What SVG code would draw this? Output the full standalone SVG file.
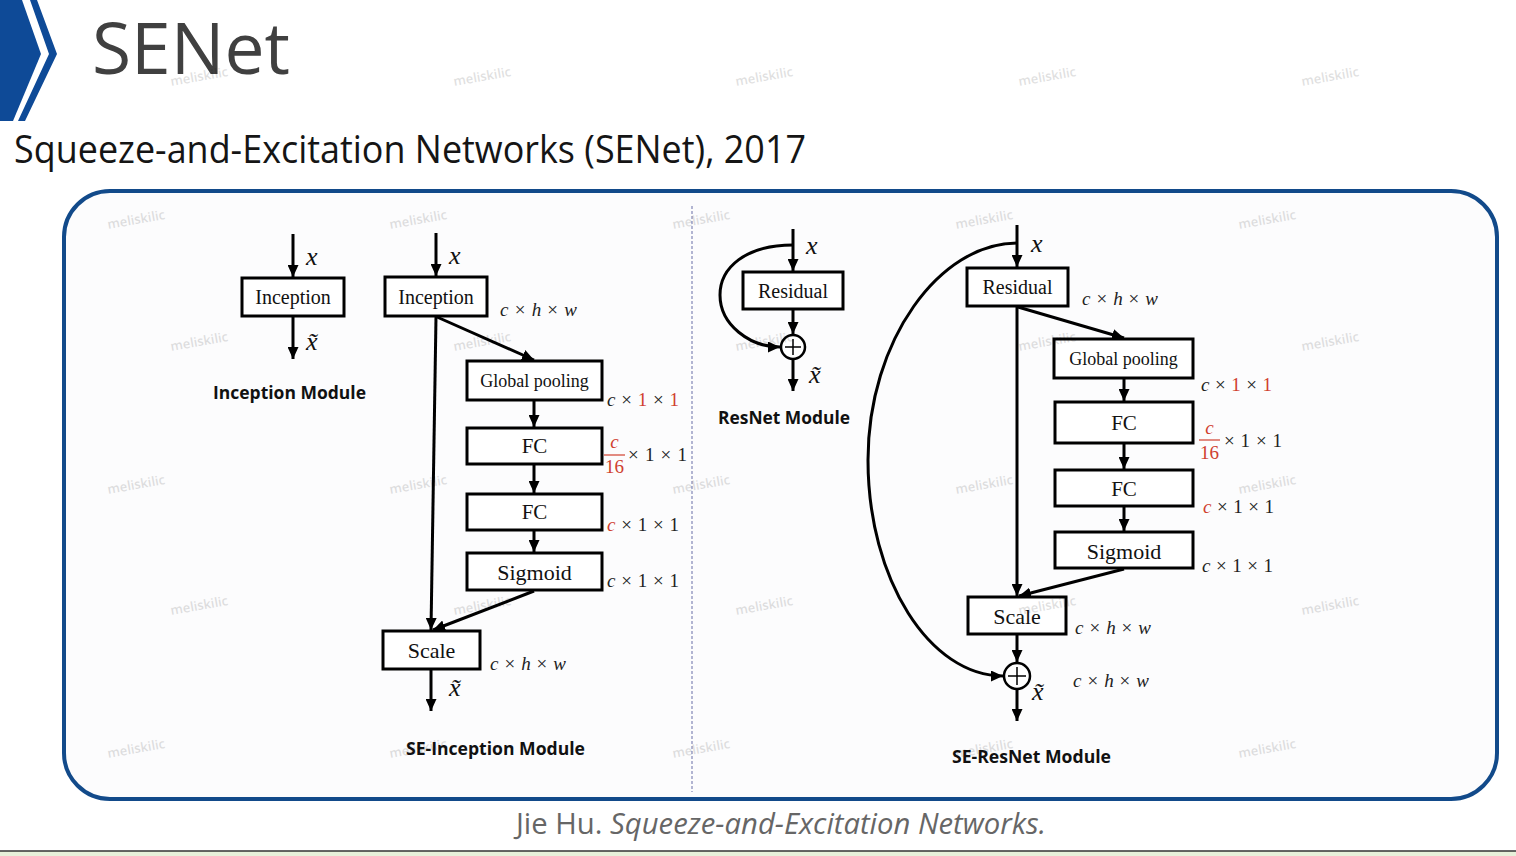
<svg xmlns="http://www.w3.org/2000/svg" width="1516" height="856" viewBox="0 0 1516 856">
<defs>
<marker id="ah" markerUnits="userSpaceOnUse" markerWidth="13" markerHeight="11" refX="12" refY="5.5" orient="auto">
<path d="M0,0 L12,5.5 L0,11 z" fill="#000"/>
</marker>
<style>
.box{fill:#fff;stroke:#000;stroke-width:3}
.lbl{font-family:"Liberation Serif","Times New Roman",serif;fill:#111;text-anchor:middle}
.con{fill:none;stroke:#000;stroke-width:3;marker-end:url(#ah)}
.dim{font-family:"Liberation Serif",serif;font-size:19px;fill:#222}
.it{font-style:italic}
.red{fill:#d0402f}
.math{font-family:"Liberation Serif",serif;font-style:italic;font-size:26px;fill:#111}
.mod{font-family:"Open Sans","Noto Sans",sans-serif;font-weight:700;font-size:17px;fill:#111}
.wm{font-family:"Open Sans",sans-serif;font-weight:600;font-size:13px;fill:#000;opacity:0.12}
.sum{fill:#fff;stroke:#000;stroke-width:2.5}
</style>
</defs>
<rect width="1516" height="856" fill="#fff"/>
<!-- header chevron -->
<polygon points="0,0 22,0 41,54 13,121 0,121" fill="#0e4a97"/>
<polygon points="30,0 37,0 57,54 25,121 18,121 49,54" fill="#0e4a97"/>
<text x="92" y="74" font-family="Open Sans,Noto Sans,sans-serif" font-size="71" fill="#404040" textLength="198" lengthAdjust="spacingAndGlyphs">SENet</text>
<text x="14" y="163" font-family="Open Sans,Noto Sans,sans-serif" font-size="39" fill="#151515" textLength="792" lengthAdjust="spacingAndGlyphs">Squeeze-and-Excitation Networks (SENet), 2017</text>
<!-- frame -->
<rect x="64" y="191" width="1433" height="608" rx="46" ry="46" fill="#fcfcfd" stroke="#124a8a" stroke-width="4"/>
<line x1="692" y1="206" x2="692" y2="792" stroke="#8b90bc" stroke-width="1.3" stroke-dasharray="3,2"/>
<!-- caption -->
<text x="516" y="834" font-family="Open Sans,Noto Sans,sans-serif" font-size="29" fill="#666" textLength="530" lengthAdjust="spacingAndGlyphs">Jie Hu. <tspan font-style="italic">Squeeze-and-Excitation Networks.</tspan></text>
<rect x="0" y="851" width="1516" height="5" fill="#e7f1da"/>
<line x1="0" y1="851" x2="1516" y2="851" stroke="#333" stroke-width="1.5"/>

<g id="connectors">
<path class="con" d="M293,234 V277"/>
<path class="con" d="M293,317 V359"/>
<path class="con" d="M436,233 V276"/>
<path class="con" d="M437,317 L534,360"/>
<path class="con" d="M436,317 L431,630"/>
<path class="con" d="M534,401 V427"/>
<path class="con" d="M534,465 V493"/>
<path class="con" d="M534,531 V552"/>
<path class="con" d="M534,591 L433,630"/>
<path class="con" d="M431,670 V711"/>
<path class="con" d="M793,229 V271"/>
<path class="con" d="M793,310 V334"/>
<path class="con" d="M793,359 V391"/>
<path class="con" d="M793,245 C745,245 720,268 720,295 C720,325 750,347 780,347"/>
<path class="con" d="M1017,225 V267"/>
<path class="con" d="M1018,307 L1124,338"/>
<path class="con" d="M1017,307 V596"/>
<path class="con" d="M1124,379 V401"/>
<path class="con" d="M1124,444 V469"/>
<path class="con" d="M1124,507 V531"/>
<path class="con" d="M1124,569 L1019,596"/>
<path class="con" d="M1017,635 V662"/>
<path class="con" d="M1017,689 V721"/>
<path class="con" d="M1017,243 C940,243 868,340 868,460 C868,580 930,676 1003,676"/>
</g>

<!-- Inception Module -->
<g id="inc-inception">
<rect class="box" x="242" y="278" width="102" height="38"/>
<text class="lbl" x="293" y="304" font-size="20">Inception</text>
</g>
<g id="inc-labels">
<text class="math" x="306" y="265">x</text>
<text class="math" x="306" y="350">x̃</text>
<text class="mod" x="213" y="399" textLength="153" lengthAdjust="spacingAndGlyphs">Inception Module</text>
</g>

<!-- SE-Inception -->
<g id="sei-inception">
<rect class="box" x="385" y="277" width="102" height="39"/>
<text class="lbl" x="436" y="304" font-size="20">Inception</text>
</g>
<g id="sei-gp">
<rect class="box" x="467" y="361" width="135" height="39"/>
<text class="lbl" x="534.5" y="387" font-size="18">Global pooling</text>
</g>
<g id="sei-fc1">
<rect class="box" x="467" y="428" width="135" height="36"/>
<text class="lbl" x="534.5" y="453" font-size="21">FC</text>
</g>
<g id="sei-fc2">
<rect class="box" x="467" y="494" width="135" height="36"/>
<text class="lbl" x="534.5" y="519" font-size="21">FC</text>
</g>
<g id="sei-sig">
<rect class="box" x="467" y="553" width="135" height="37"/>
<text class="lbl" x="534.5" y="580" font-size="22">Sigmoid</text>
</g>
<g id="sei-scale">
<rect class="box" x="383" y="631" width="97" height="38"/>
<text class="lbl" x="431.5" y="658" font-size="22">Scale</text>
</g>
<g id="sei-labels">
<text class="math" x="449" y="264">x</text>
<text class="math" x="449" y="696">x̃</text>
<text class="dim" x="500" y="316" textLength="77" lengthAdjust="spacing"><tspan class="it">c</tspan> × <tspan class="it">h</tspan> × <tspan class="it">w</tspan></text>
<text class="dim" x="607" y="406" textLength="72" lengthAdjust="spacing"><tspan class="it">c</tspan> × <tspan class="red">1</tspan> × <tspan class="red">1</tspan></text>
<text class="dim red it" x="614.5" y="448" text-anchor="middle">c</text>
<line x1="604" y1="455" x2="625" y2="455" stroke="#d0402f" stroke-width="1.2"/>
<text class="dim red" x="614.5" y="473" text-anchor="middle">16</text>
<text class="dim" x="628" y="461" textLength="59" lengthAdjust="spacing">× 1 × 1</text>
<text class="dim" x="607" y="531" textLength="72" lengthAdjust="spacing"><tspan class="it red">c</tspan> × 1 × 1</text>
<text class="dim" x="607" y="587" textLength="72" lengthAdjust="spacing"><tspan class="it">c</tspan> × 1 × 1</text>
<text class="dim" x="490" y="670" textLength="76" lengthAdjust="spacing"><tspan class="it">c</tspan> × <tspan class="it">h</tspan> × <tspan class="it">w</tspan></text>
<text class="mod" x="406" y="755" textLength="179" lengthAdjust="spacingAndGlyphs">SE-Inception Module</text>
</g>

<!-- ResNet Module -->
<g id="res-residual">
<rect class="box" x="743" y="272" width="100" height="37"/>
<text class="lbl" x="793" y="298" font-size="20">Residual</text>
</g>
<g id="res-sum">
<circle class="sum" cx="793" cy="347" r="12"/>
<path d="M785,347 H801 M793,339 V355" stroke="#000" stroke-width="1.5"/>
</g>
<g id="res-labels">
<text class="math" x="806" y="254">x</text>
<text class="math" x="809" y="383">x̃</text>
<text class="mod" x="718" y="424" textLength="132" lengthAdjust="spacingAndGlyphs">ResNet Module</text>
</g>

<!-- SE-ResNet -->
<g id="ser-residual">
<rect class="box" x="967" y="268" width="101" height="38"/>
<text class="lbl" x="1017.5" y="294" font-size="20">Residual</text>
</g>
<g id="ser-gp">
<rect class="box" x="1054" y="339" width="139" height="39"/>
<text class="lbl" x="1123.5" y="365" font-size="18">Global pooling</text>
</g>
<g id="ser-fc1">
<rect class="box" x="1055" y="402" width="138" height="41"/>
<text class="lbl" x="1124" y="430" font-size="21">FC</text>
</g>
<g id="ser-fc2">
<rect class="box" x="1055" y="470" width="138" height="36"/>
<text class="lbl" x="1124" y="496" font-size="21">FC</text>
</g>
<g id="ser-sig">
<rect class="box" x="1055" y="532" width="138" height="36"/>
<text class="lbl" x="1124" y="559" font-size="22">Sigmoid</text>
</g>
<g id="ser-scale">
<rect class="box" x="968" y="597" width="98" height="37"/>
<text class="lbl" x="1017" y="624" font-size="22">Scale</text>
</g>
<g id="ser-sum">
<circle class="sum" cx="1017" cy="676" r="13"/>
<path d="M1008,676 H1026 M1017,667 V685" stroke="#000" stroke-width="1.5"/>
</g>
<g id="ser-labels">
<text class="math" x="1031" y="252">x</text>
<text class="math" x="1032" y="700">x̃</text>
<text class="dim" x="1082" y="305" textLength="76" lengthAdjust="spacing"><tspan class="it">c</tspan> × <tspan class="it">h</tspan> × <tspan class="it">w</tspan></text>
<text class="dim" x="1201" y="391" textLength="71" lengthAdjust="spacing"><tspan class="it">c</tspan> × <tspan class="red">1</tspan> × <tspan class="red">1</tspan></text>
<text class="dim red it" x="1209.5" y="434" text-anchor="middle">c</text>
<line x1="1199" y1="440" x2="1220" y2="440" stroke="#d0402f" stroke-width="1.2"/>
<text class="dim red" x="1209.5" y="459" text-anchor="middle">16</text>
<text class="dim" x="1224" y="447" textLength="58" lengthAdjust="spacing">× 1 × 1</text>
<text class="dim" x="1203" y="513" textLength="71" lengthAdjust="spacing"><tspan class="it red">c</tspan> × 1 × 1</text>
<text class="dim" x="1202" y="572" textLength="71" lengthAdjust="spacing"><tspan class="it">c</tspan> × 1 × 1</text>
<text class="dim" x="1075" y="634" textLength="76" lengthAdjust="spacing"><tspan class="it">c</tspan> × <tspan class="it">h</tspan> × <tspan class="it">w</tspan></text>
<text class="dim" x="1073" y="687" textLength="76" lengthAdjust="spacing"><tspan class="it">c</tspan> × <tspan class="it">h</tspan> × <tspan class="it">w</tspan></text>
<text class="mod" x="952" y="763" textLength="159" lengthAdjust="spacingAndGlyphs">SE-ResNet Module</text>
</g>

<!-- watermarks -->
<g id="watermarks" text-anchor="middle">
<text class="wm" transform="translate(200,81) rotate(-10)">meliskilic</text>
<text class="wm" transform="translate(483,81) rotate(-10)">meliskilic</text>
<text class="wm" transform="translate(765,81) rotate(-10)">meliskilic</text>
<text class="wm" transform="translate(1048,81) rotate(-10)">meliskilic</text>
<text class="wm" transform="translate(1331,81) rotate(-10)">meliskilic</text>
<text class="wm" transform="translate(137,224) rotate(-10)">meliskilic</text>
<text class="wm" transform="translate(419,224) rotate(-10)">meliskilic</text>
<text class="wm" transform="translate(702,224) rotate(-10)">meliskilic</text>
<text class="wm" transform="translate(985,224) rotate(-10)">meliskilic</text>
<text class="wm" transform="translate(1268,224) rotate(-10)">meliskilic</text>
<text class="wm" transform="translate(200,346) rotate(-10)">meliskilic</text>
<text class="wm" transform="translate(483,346) rotate(-10)">meliskilic</text>
<text class="wm" transform="translate(765,346) rotate(-10)">meliskilic</text>
<text class="wm" transform="translate(1048,346) rotate(-10)">meliskilic</text>
<text class="wm" transform="translate(1331,346) rotate(-10)">meliskilic</text>
<text class="wm" transform="translate(137,489) rotate(-10)">meliskilic</text>
<text class="wm" transform="translate(419,489) rotate(-10)">meliskilic</text>
<text class="wm" transform="translate(702,489) rotate(-10)">meliskilic</text>
<text class="wm" transform="translate(985,489) rotate(-10)">meliskilic</text>
<text class="wm" transform="translate(1268,489) rotate(-10)">meliskilic</text>
<text class="wm" transform="translate(200,610) rotate(-10)">meliskilic</text>
<text class="wm" transform="translate(483,610) rotate(-10)">meliskilic</text>
<text class="wm" transform="translate(765,610) rotate(-10)">meliskilic</text>
<text class="wm" transform="translate(1048,610) rotate(-10)">meliskilic</text>
<text class="wm" transform="translate(1331,610) rotate(-10)">meliskilic</text>
<text class="wm" transform="translate(137,753) rotate(-10)">meliskilic</text>
<text class="wm" transform="translate(419,753) rotate(-10)">meliskilic</text>
<text class="wm" transform="translate(702,753) rotate(-10)">meliskilic</text>
<text class="wm" transform="translate(985,753) rotate(-10)">meliskilic</text>
<text class="wm" transform="translate(1268,753) rotate(-10)">meliskilic</text>
</g>
</svg>
